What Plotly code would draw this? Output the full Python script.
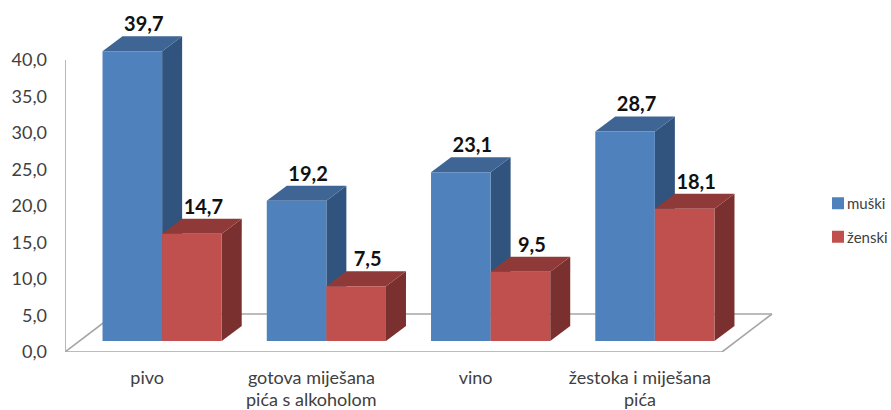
import plotly.graph_objects as go

categories = ["pivo", "gotova miješana", "vino", "žestoka i miješana"]
second_lines = ["", "pića s alkoholom", "", "pića"]
muski = [39.7, 19.2, 23.1, 28.7]
zenski = [14.7, 7.5, 9.5, 18.1]
y_ticks = [0, 5, 10, 15, 20, 25, 30, 35, 40]

# pixel scale of the reproduced chart
W, H = 891, 410
L, R_PX, B_PX = 65, 800, 352
PX_X = 164.25          # px per category
PX_Y = 7.3             # px per value unit
FONT = "Lato"
TXT = "#404040"
GRID = "#a6a6a6"

u = lambda px: px / PX_X
v = lambda px: px / PX_Y

x_rng = [-0.5, -0.5 + u(R_PX - L)]
y_rng = [0, v(B_PX)]
x_shift, y_shift = u(15), v(11)          # bars stand inside the floor
x_rng2 = [x_rng[0] - x_shift, x_rng[1] - x_shift]
y_rng2 = [y_rng[0] - y_shift, y_rng[1] - y_shift]
bw = u(59.6)
dx, dy = u(20), v(15)                    # bar depth
floor_dx, floor_dy = u(50), v(38)

series = [
    ("muški", muski, -bw / 2, "#4F81BD", "#3E6594", "#31547E"),
    ("ženski", zenski, bw / 2, "#C0504D", "#8F3A38", "#7A302E"),
]

fig = go.Figure()

# side and top faces, computed from the values
for name, vals, off, front, top, side in series:
    for i, val in enumerate(vals):
        x0, x1 = i + off - bw / 2, i + off + bw / 2
        fig.add_trace(go.Scatter(
            x=[x1, x1 + dx, x1 + dx, x1, x1], y=[0, dy, val + dy, val, 0],
            mode="lines", fill="toself", fillcolor=side, line=dict(width=0),
            showlegend=False, hoverinfo="skip", xaxis="x2", yaxis="y2"))
        fig.add_trace(go.Scatter(
            x=[x0, x1, x1 + dx, x0 + dx, x0], y=[val, val, val + dy, val + dy, val],
            mode="lines", fill="toself", fillcolor=top, line=dict(width=0),
            showlegend=False, hoverinfo="skip", xaxis="x2", yaxis="y2"))

# front faces
for name, vals, off, front, top, side in series:
    fig.add_trace(go.Bar(
        x=list(range(len(vals))), y=vals, name=name, marker=dict(color=front, line=dict(width=0)),
        legendgroup=name, xaxis="x3", yaxis="y3"))

# value labels
for name, vals, off, front, top, side in series:
    fig.add_trace(go.Scatter(
        x=[i + off + u(11.5) for i in range(len(vals))],
        y=[val + dy for val in vals],
        mode="text", text=[f"{val:.1f}".replace(".", ",") for val in vals],
        textposition="top center",
        textfont=dict(family=FONT, size=20, color="#111111", weight="bold"),
        showlegend=False, hoverinfo="skip", cliponaxis=False, xaxis="x3", yaxis="y3"))

# chart frame: wall and floor
line = dict(color=GRID, width=1.6)
frame = [
    (-0.5, 0, -0.5, 40),
    (-0.5, 0, 3.5, 0),
    (3.5, 0, 3.5 + floor_dx, floor_dy),
    (-0.5 + floor_dx, floor_dy, 3.5 + floor_dx, floor_dy),
    (-0.5, 0, -0.5 + floor_dx, floor_dy),
]
shapes = [dict(type="line", x0=a, y0=b, x1=c, y1=d, xref="x", yref="y", line=line, layer="below")
          for a, b, c, d in frame]

# second lines of the two-line category labels
annotations = [
    dict(x=i, y=0, xref="x", yref="y", text=t, showarrow=False, yshift=-46.5, borderpad=0,
         font=dict(family=FONT, size=18, color=TXT))
    for i, t in enumerate(second_lines) if t
]

hidden = dict(visible=False, showgrid=False, zeroline=False, fixedrange=True)
fig.update_layout(
    width=W, height=H, plot_bgcolor="white", paper_bgcolor="white",
    margin=dict(l=L, r=W - R_PX, t=0, b=H - B_PX, autoexpand=False),
    barmode="group", bargap=1 - 2 * bw, bargroupgap=0,
    xaxis=dict(range=x_rng, tickmode="array", tickvals=list(range(4)), ticktext=categories,
               showgrid=False, zeroline=False, showline=False, ticks="", ticklabelstandoff=13,
               tickfont=dict(family=FONT, size=18, color=TXT)),
    yaxis=dict(range=y_rng, tickmode="array", tickvals=y_ticks,
               ticktext=[f"{t:.1f}".replace(".", ",") for t in y_ticks],
               showgrid=False, zeroline=False, showline=False, ticks="", ticklabelstandoff=17,
               tickfont=dict(family=FONT, size=18, color=TXT)),
    xaxis2=dict(range=x_rng2, overlaying="x", anchor="y2", **hidden),
    yaxis2=dict(range=y_rng2, overlaying="y", anchor="x2", **hidden),
    xaxis3=dict(range=x_rng2, overlaying="x", anchor="y3", **hidden),
    yaxis3=dict(range=y_rng2, overlaying="y", anchor="x3", **hidden),
    shapes=shapes, annotations=annotations,
    legend=dict(x=(807 - L) / (R_PX - L), y=(B_PX - 187) / B_PX, xanchor="left", yanchor="top",
                traceorder="grouped", tracegroupgap=11, itemwidth=30,
                font=dict(family=FONT, size=15, color=TXT), bgcolor="rgba(0,0,0,0)"),
)

# page without its default margin; legend swatches sit closer to their texts
post = (
    "document.body.style.margin='0';"
    "document.documentElement.style.overflow='hidden';"
    "document.querySelectorAll('.legend .legendpoints').forEach("
    "function(g){g.setAttribute('transform','translate(11,0)');});"
)
fig.write_html("out.html", config=dict(displayModeBar=False), post_script=post)
